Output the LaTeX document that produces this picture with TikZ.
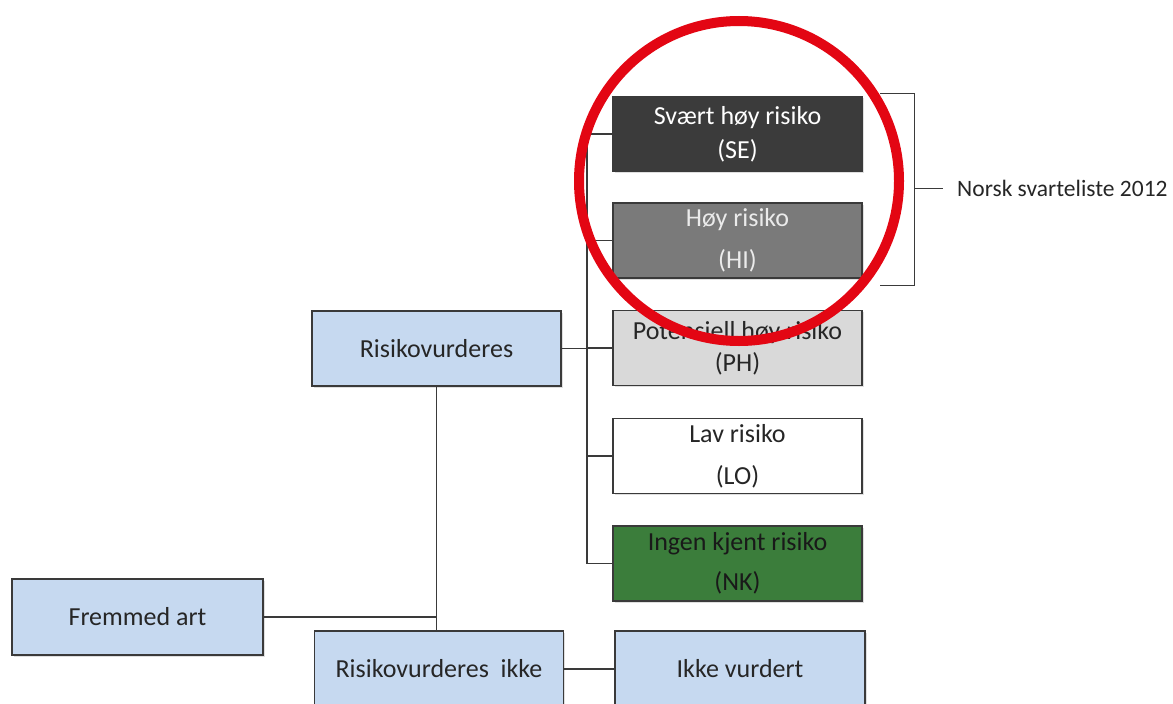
\documentclass[tikz,border=0pt]{standalone}
\usepackage{fontspec}
\setmainfont{Carlito}
\usetikzlibrary{shadows}
\definecolor{lineg}{HTML}{3A3A3A}
\definecolor{boxblue}{HTML}{C6D9F0}
\definecolor{sedark}{HTML}{3B3B3B}
\definecolor{higray}{HTML}{7A7A7A}
\definecolor{phgray}{HTML}{D9D9D9}
\definecolor{nkgreen}{HTML}{3B7D3B}
\definecolor{ringred}{HTML}{E30613}
\tikzset{
  box/.style={draw=lineg, line width=1.2pt, minimum width=249pt, minimum height=75pt,
    inner sep=0pt, align=center, font=\fontsize{26}{30}\selectfont, text=black!85,
    drop shadow={opacity=0.25, shadow xshift=1.5pt, shadow yshift=-1.5pt}},
  conn/.style={draw=lineg, line width=1.2pt},
}
\begin{document}
\begin{tikzpicture}[x=1pt, y=-1pt]
\useasboundingbox (0,0) rectangle (1173,704);
% risk class boxes
\node[box, fill=sedark, text=white] (SE) at (737.5,134) {Svært høy risiko\\[4pt](SE)};
\node[box, fill=higray, text=white!92!black] (HI) at (737.5,240.5) {Høy risiko\\[12pt](HI)};
\node[box, fill=phgray] (PH) at (737.5,348) {Potensiell høy risiko\\[2pt](PH)};
\node[box, fill=white] (LO) at (737.5,456) {Lav risiko\\[12pt](LO)};
\node[box, fill=nkgreen, text=black!90] (NK) at (737.5,563.5) {Ingen kjent risiko\\[10pt](NK)};
% left boxes
\node[box, fill=boxblue] (RV) at (436.5,348.5) {Risikovurderes};
\node[box, fill=boxblue, minimum width=251pt, minimum height=76pt] (FA) at (137.5,617) {Fremmed art};
\node[box, fill=boxblue, minimum height=76pt] (RIK) at (439,669) {Risikovurderes\ \ ikke};
\node[box, fill=boxblue, minimum width=250pt, minimum height=76pt] (IV) at (740,669) {Ikke vurdert};
% connectors
\coordinate (trunk) at (587,348.5);
\draw[conn] (SE.west) -| (trunk) |- (NK.west);
\draw[conn] (HI.west) -- (HI.west -| trunk);
\draw[conn] (PH.west) -- (PH.west -| trunk);
\draw[conn] (LO.west) -- (LO.west -| trunk);
\draw[conn] (RV.east) -- (trunk);
\draw[conn] (RV.south) -- (RV.south |- RIK.north);
\draw[conn] (FA.east) -- (FA.east -| RV.south);
\draw[conn] (RIK.east) -- (IV.west);
% bracket
\coordinate (bt) at (880,93);
\coordinate (bb) at (880,285);
\coordinate (bm) at (914,188);
\node[anchor=west, inner xsep=14pt, inner ysep=2pt, font=\fontsize{23.5}{28}\selectfont, text=black!85] (lbl) at (943,188) {Norsk svarteliste 2012};
\draw[conn, line width=1pt] (bt) -- (bt -| bm) -- (bb -| bm) -- (bb);
\draw[conn, line width=1pt] (bm) -- (lbl.west);
% red ring
\draw[ringred, line width=10pt] (739,181) circle [radius=160pt];
\end{tikzpicture}
\end{document}
